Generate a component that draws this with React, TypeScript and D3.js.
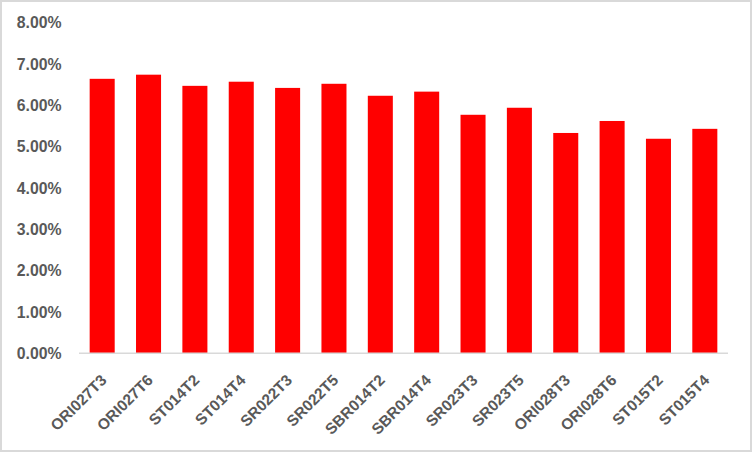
import React from "react";
import * as d3 from "d3";

const categories = ["ORI027T3", "ORI027T6", "ST014T2", "ST014T4", "SR022T3", "SR022T5", "SBR014T2", "SBR014T4", "SR023T3", "SR023T5", "ORI028T3", "ORI028T6", "ST015T2", "ST015T4"];
const values = [0.0664, 0.0674, 0.0647, 0.0657, 0.0642, 0.0652, 0.0623, 0.0633, 0.0577, 0.0594, 0.0533, 0.0562, 0.0519, 0.0543];
const yTicks = [0, 0.01, 0.02, 0.03, 0.04, 0.05, 0.06, 0.07, 0.08];

export default function App() {
  const W = 752, H = 452;
  const left = 79, right = 728, top = 22.6, bottom = 353.3;
  const x = d3.scaleBand<string>().domain(categories).range([left, right]).paddingInner(0.46).paddingOuter(0.23);
  const y = d3.scaleLinear().domain([0, 0.08]).range([bottom, top]);
  const fmt = d3.format(".2%");
  const font = "'Liberation Sans', Arial, sans-serif";
  React.useEffect(() => { document.body.style.margin = "0"; }, []);
  return (
    <svg width={W} height={H} style={{ position: "absolute", left: 0, top: 0, display: "block" }}>
      <rect x={1} y={1} width={W - 2} height={H - 2} fill="#fff" stroke="#d9d9d9" strokeWidth={2} />
      {yTicks.map((t) => (
        <text key={t} x={61.5} y={y(t)} dy="0.36em" textAnchor="end" fontFamily={font} fontWeight="bold" fontSize={15.8} fill="#595959">
          {fmt(t)}
        </text>
      ))}
      {categories.map((c, i) => (
        <rect key={c} x={x(c)} y={y(values[i])} width={x.bandwidth()} height={bottom - y(values[i])} fill="#ff0000" />
      ))}
      <line x1={left} x2={right} y1={bottom} y2={bottom} stroke="#d9d9d9" strokeWidth={1.5} />
      {categories.map((c) => {
        const cx = (x(c) as number) + x.bandwidth() / 2 + 1.5;
        const cy = bottom + 24;
        return (
          <text key={c} x={cx} y={cy} transform={`rotate(-45, ${cx}, ${cy})`} textAnchor="end" dy="0.36em" fontFamily={font} fontWeight="bold" fontSize={15.5} fill="#595959">
            {c}
          </text>
        );
      })}
    </svg>
  );
}
